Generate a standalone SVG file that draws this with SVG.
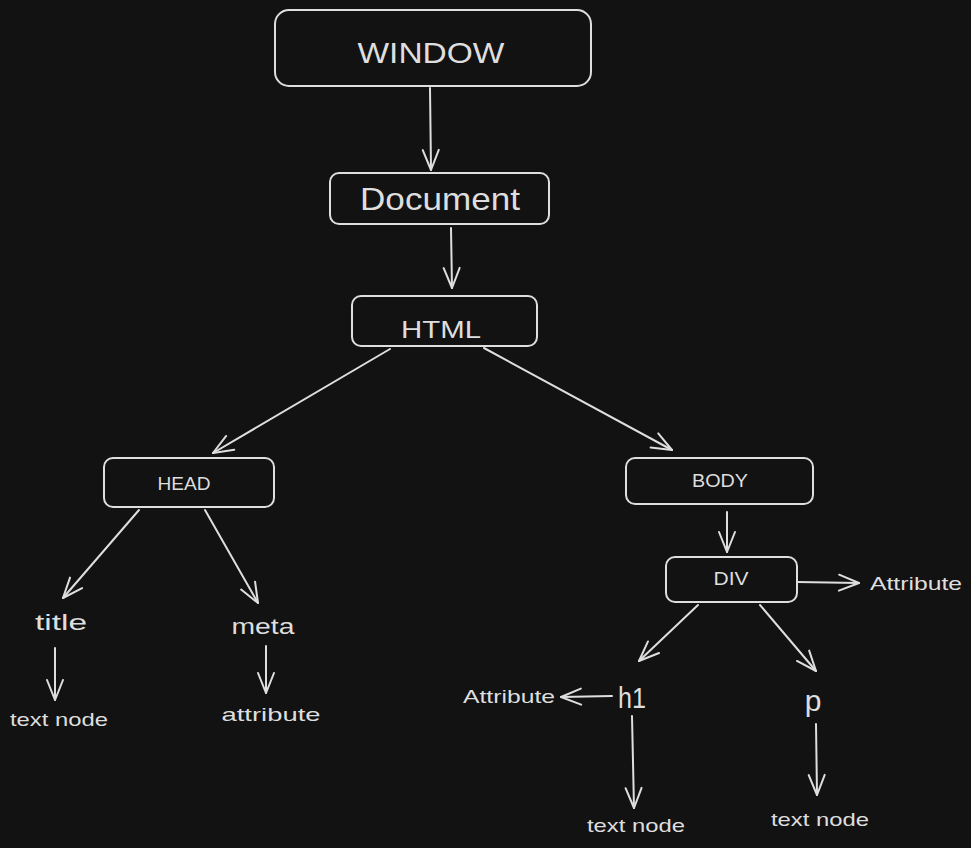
<svg xmlns="http://www.w3.org/2000/svg" width="971" height="848" viewBox="0 0 971 848">
<defs>
<style>
.box{fill:none;stroke:#dedede;stroke-width:2}
.c{fill:none;stroke:#dedede;stroke-width:2;stroke-linecap:round;marker-end:url(#ah)}
text{fill:#dedede;font-family:"Liberation Sans","DejaVu Sans",sans-serif;text-anchor:middle;dominant-baseline:central}
</style>
<marker id="ah" markerUnits="userSpaceOnUse" viewBox="-24 -12 28 24" refX="0" refY="0" markerWidth="28" markerHeight="24" orient="auto" overflow="visible">
<path d="M-20 -8 L0 0 L-20 8" fill="none" stroke="#dedede" stroke-width="2" stroke-linecap="round" stroke-linejoin="round"/>
</marker>
</defs>
<rect width="971" height="848" fill="#121212"/>
<g id="connectors">
<path class="c" d="M430 88 L431 170"/>
<path class="c" d="M451 228 L452 288"/>
<path class="c" d="M390 349 L213 453"/>
<path class="c" d="M484 348 L672 450"/>
<path class="c" d="M139 510 L63 598"/>
<path class="c" d="M205 510 L258 603"/>
<path class="c" d="M55 648 L55 700"/>
<path class="c" d="M266 646 L266 693"/>
<path class="c" d="M727 512 L727 552"/>
<path class="c" d="M797 582 L859 583"/>
<path class="c" d="M698 605 L639 661"/>
<path class="c" d="M760 605 L816 671"/>
<path class="c" d="M612 696 L561 697"/>
<path class="c" d="M632 716 L634 808"/>
<path class="c" d="M816 724 L817 795"/>
</g>
<g id="window"><rect class="box" x="275" y="10" width="316" height="76" rx="14"/><text x="431" y="52" font-size="30" textLength="147" lengthAdjust="spacingAndGlyphs">WINDOW</text></g>
<g id="document"><rect class="box" x="330" y="173" width="219" height="51" rx="9"/><text x="440" y="199" font-size="32" textLength="160" lengthAdjust="spacingAndGlyphs">Document</text></g>
<g id="html"><rect class="box" x="352" y="296" width="185" height="50" rx="9"/><text x="441" y="329" font-size="24" textLength="80" lengthAdjust="spacingAndGlyphs">HTML</text></g>
<g id="head"><rect class="box" x="104" y="458" width="170" height="49" rx="9"/><text x="184" y="484" font-size="18" textLength="53" lengthAdjust="spacingAndGlyphs">HEAD</text></g>
<g id="body"><rect class="box" x="626" y="458" width="187" height="46" rx="9"/><text x="720" y="481" font-size="18" textLength="56" lengthAdjust="spacingAndGlyphs">BODY</text></g>
<g id="div"><rect class="box" x="666" y="557" width="131" height="45" rx="9"/><text x="731" y="579" font-size="18" textLength="35" lengthAdjust="spacingAndGlyphs">DIV</text></g>
<g id="title"><text x="61" y="622" font-size="22" textLength="52" lengthAdjust="spacingAndGlyphs">title</text></g>
<g id="meta"><text x="263" y="626" font-size="22" textLength="63" lengthAdjust="spacingAndGlyphs">meta</text></g>
<g id="title-text"><text x="59" y="719" font-size="19" textLength="98" lengthAdjust="spacingAndGlyphs">text node</text></g>
<g id="meta-attr"><text x="271" y="714" font-size="19" textLength="99" lengthAdjust="spacingAndGlyphs">attribute</text></g>
<g id="div-attr"><text x="916" y="583" font-size="19" textLength="92" lengthAdjust="spacingAndGlyphs">Attribute</text></g>
<g id="h1"><text x="632" y="697" font-size="30" textLength="28" lengthAdjust="spacingAndGlyphs">h1</text></g>
<g id="h1-attr"><text x="509" y="696" font-size="19" textLength="92" lengthAdjust="spacingAndGlyphs">Attribute</text></g>
<g id="p"><text x="813" y="700" font-size="30">p</text></g>
<g id="h1-text"><text x="636" y="825" font-size="19" textLength="98" lengthAdjust="spacingAndGlyphs">text node</text></g>
<g id="p-text"><text x="820" y="819" font-size="19" textLength="98" lengthAdjust="spacingAndGlyphs">text node</text></g>
</svg>
